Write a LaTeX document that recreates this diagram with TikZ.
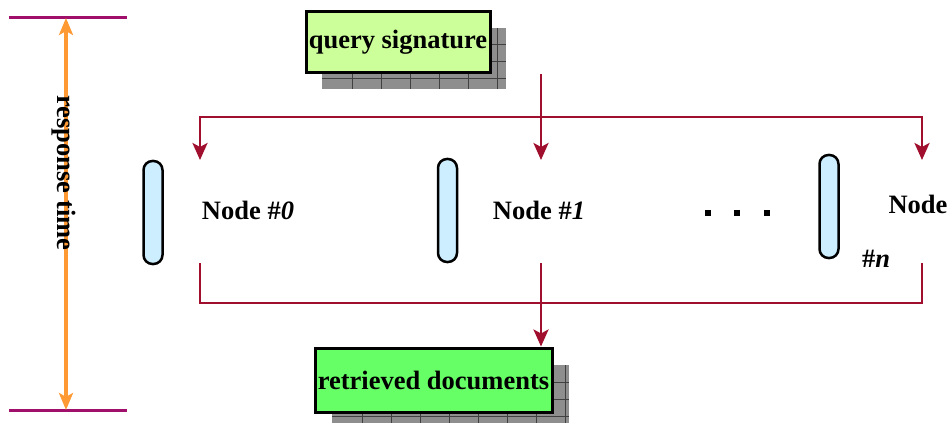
\documentclass[tikz,border=0pt]{standalone}
\usepackage{fontspec}
\setmainfont{Liberation Serif}
\usetikzlibrary{arrows.meta}
\definecolor{darkred}{HTML}{A0102E}
\definecolor{purp}{HTML}{A0106B}
\definecolor{orng}{HTML}{FF9933}
\definecolor{qgreen}{HTML}{CCFF99}
\definecolor{rgreen}{HTML}{66FF66}
\definecolor{capblue}{HTML}{CCEEFF}
\definecolor{shadowgray}{HTML}{8E8E8E}
\tikzset{
  lbl/.style={font=\fontsize{26.5}{30}\selectfont\bfseries, inner sep=0pt},
  box/.style={draw=black, line width=3pt, minimum width=#1, inner sep=0pt, font=\fontsize{26.5}{30}\selectfont\bfseries},
  capsule/.style={draw=black, fill=capblue, line width=2.5pt, rounded corners=9pt, minimum width=19pt, minimum height=103pt, inner sep=0pt},
  conn/.style={draw=darkred, line width=2.8pt},
  arr/.style={conn, -{Stealth[length=17pt,width=15pt,inset=4pt]}},
  arrb/.style={conn, {Stealth[length=17pt,width=15pt,inset=4pt]}-{Stealth[length=17pt,width=15pt,inset=4pt]}},
  limit/.style={draw=purp, line width=3pt},
  dotsq/.style={fill=black, minimum size=6pt, inner sep=0pt},
}
\newcommand{\shadowgrid}[4]{%
  \fill[shadowgray] (#1,#2) rectangle (#3,#4);
  \begin{scope}
    \clip (#1,#2) rectangle (#3,#4);
    \foreach \gx in {30,59,...,260} {\draw[black!75, line width=1pt] (#1+\gx,#2) -- (#1+\gx,#4);}
    \foreach \gy in {17,34,51} {\draw[black!75, line width=1pt] (#1,#2+\gy) -- (#3,#2+\gy);}
  \end{scope}}
\begin{document}
\begin{tikzpicture}[x=1pt,y=-1pt]
\useasboundingbox (0,0) rectangle (948,425);
\fill[white] (0,0) rectangle (948,425);

% response time
\coordinate (rtl1) at (9,18); \coordinate (rtr1) at (127,18);
\coordinate (rtl2) at (9,410); \coordinate (rtr2) at (127,410);
\coordinate (rttop) at (66,18); \coordinate (rtbot) at (66,410);
\draw[limit] (rtl1) -- (rtr1);
\draw[limit] (rtl2) -- (rtr2);
\draw[draw=orng, line width=3.2pt, {Stealth[length=17pt,width=14pt,inset=4pt]}-{Stealth[length=17pt,width=14pt,inset=4pt]}] (rttop) -- (rtbot);
\node[lbl, rotate=-90] (rt) at (64,173) {response time};

% query signature
\shadowgrid{322}{28}{506}{89}
\node[box=184pt, minimum height=61pt, fill=qgreen] (qs) at (398,42.5) {query signature};

% retrieved documents
\shadowgrid{332}{365}{569}{423}
\node[box=237pt, minimum height=64pt, fill=rgreen] (rd) at (433.5,380) {retrieved documents};

% capsules
\node[capsule] (c0) at (153,212.5) {};
\node[capsule] (c1) at (447.5,210.5) {};
\node[capsule] (cn) at (829,206.5) {};

% labels
\node[lbl] (n0) at (248,210) {Node \#\textit{0}};
\node[lbl] (n1) at (539,210) {Node \#\textit{1}};
\node[lbl] (nn) at (918,204) {Node};
\node[lbl] (nnh) at (876,259) {\#\textit{n}};

% dots
\node[dotsq] (d1) at (708,213) {};
\node[dotsq] (d2) at (737,213) {};
\node[dotsq] (d3) at (767,213) {};

% connectors top
\coordinate (qsout) at (541,74);
\coordinate (t0) at (200,160);
\coordinate (t1) at (541,160);
\coordinate (tn) at (922,160);
\coordinate (bl) at (200,117);
\coordinate (br) at (922,117);
\draw[arrb] (t0) -- (bl) -- (br) -- (tn);
\draw[arr] (qsout) -- (t1);

% connectors bottom
\coordinate (b0) at (200,263);
\coordinate (b1) at (541,263);
\coordinate (bn) at (922,263);
\coordinate (bbl) at (200,303);
\coordinate (bbr) at (922,303);
\draw[conn] (b0) -- (bbl) -- (bbr) -- (bn);
\draw[arr] (b1) -- (b1 |- rd.north);
\end{tikzpicture}
\end{document}
